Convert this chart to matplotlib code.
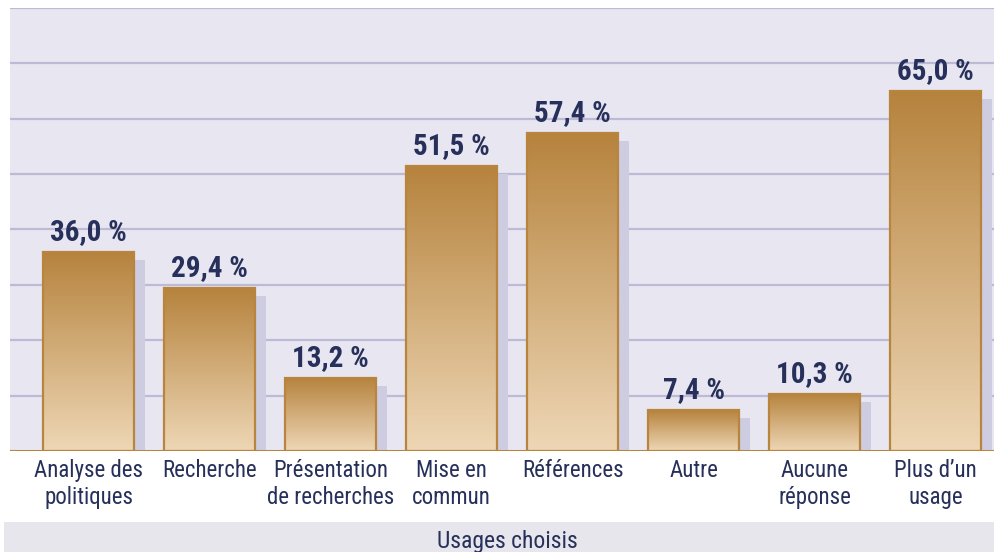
import numpy as np
import matplotlib
matplotlib.use("Agg")
import matplotlib.pyplot as plt
from matplotlib.patches import Rectangle

# data
categories = ["Analyse des\npolitiques", "Recherche", "Présentation\nde recherches",
              "Mise en\ncommun", "Références", "Autre", "Aucune\nréponse", "Plus d\u2019un\nusage"]
values = [36.0, 29.4, 13.2, 51.5, 57.4, 7.4, 10.3, 65.0]
value_labels = ["36,0 %", "29,4 %", "13,2 %", "51,5 %", "57,4 %", "7,4 %", "10,3 %", "65,0 %"]
xlabel = "Usages choisis"

plt.rcParams['font.family'] = ['Roboto Condensed', 'DejaVu Sans']

navy = "#26305a"
bg = "#e8e6f0"
grid_c = "#bdbad6"
shadow_c = "#cdcce0"
edge_c = "#b8843e"

fig = plt.figure(figsize=(9.95, 5.52), dpi=100)
ax = fig.add_axes([10 / 995, 101 / 552, 985 / 995, 443 / 552])
ax.set_facecolor(bg)

for y in range(10, 81, 10):
    ax.axhline(y, color=grid_c, lw=1.6, zorder=1)

w = 0.752
sx = 11 / 121
sy = 8 / 5.54
grad = np.linspace(0, 1, 256).reshape(-1, 1)
cmap = matplotlib.colors.LinearSegmentedColormap.from_list("g", ["#eed7b6", "#b6833d"])

x = np.arange(len(values))
ax.bar(x + sx, np.array(values) - sy, width=w, color=shadow_c, zorder=2)
for xi, v, lab in zip(x, values, value_labels):
    im = ax.imshow(grad, cmap=cmap, aspect="auto", origin="lower",
                   extent=(xi - w / 2, xi + w / 2, 0, v), zorder=3)
    r = Rectangle((xi - w / 2, 0), w, v, facecolor="none", edgecolor=edge_c, lw=1.6, zorder=4)
    ax.add_patch(r)
    im.set_clip_path(r)
    ax.text(xi, v + 2.1, lab, ha="center", va="baseline", fontsize=21,
            fontweight="bold", color=navy)

ax.axhline(0, color=edge_c, lw=2.2, zorder=5)
ax.set_xlim(-0.649, 7.49)
ax.set_ylim(0, 80)

ax.set_xticks(x)
ax.set_xticklabels(categories, fontsize=16.5, color=navy, linespacing=1.22)
ax.tick_params(axis="x", length=0, pad=6)
ax.set_yticks([])
for s in ax.spines.values():
    s.set_visible(False)

fig.patches.append(Rectangle((4 / 995, 0), 991 / 995, 30 / 552, transform=fig.transFigure,
                             facecolor="#e6e6ec", edgecolor="none", zorder=0))
fig.text(507 / 995, 4 / 552, xlabel, ha="center", va="baseline", fontsize=17, color=navy)

fig.savefig("out.png", dpi=100)
